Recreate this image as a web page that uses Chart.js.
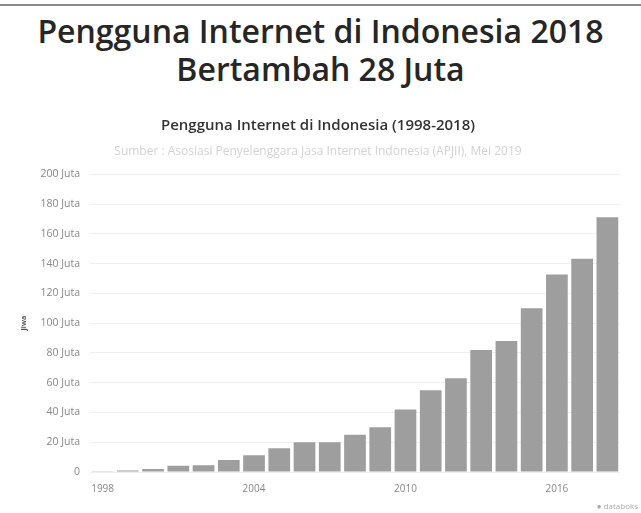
<!DOCTYPE html>
<html lang="id">
<head>
    <meta charset="UTF-8">
    <title>Pengguna Internet di Indonesia 2018</title>
    <script src="https://cdn.jsdelivr.net/npm/chart.js"></script>
    <style>
        body { margin: 0; background: #fff; width: 641px; height: 513px; overflow: hidden; position: relative; font-family: "Open Sans", sans-serif; }
        #topline { position: absolute; left: 0; top: 4px; width: 641px; height: 2px; background: #8a8a8a; }
        #headline { position: absolute; left: 0; top: 12px; width: 641px; text-align: center; font-size: 32px; line-height: 38px; color: #262626; font-weight: 600; }
        #chartBox { position: absolute; left: 0; top: 106px; width: 641px; height: 407px; }
        #brand { position: absolute; right: 3px; bottom: 2px; font-size: 8px; color: #aaa; }
    </style>
</head>
<body>
<div id="topline"></div>
<div id="headline">Pengguna Internet di Indonesia 2018<br>Bertambah 28 Juta</div>
<div id="chartBox"><canvas id="usersChart" width="641" height="407"></canvas></div>
<div id="brand">&#9679; databoks</div>

<script>
    // Data (juta jiwa)
    const years = ['1998','1999','2000','2001','2002','2003','2004','2005','2006','2007','2008',
                   '2009','2010','2011','2012','2013','2014','2015','2016','2017','2018'];
    const users = [0.5, 1, 2, 4.2, 4.5, 8, 11.2, 16, 20, 20, 25,
                   30, 42, 55, 63, 82, 88, 110, 132.7, 143.3, 171.2];
    const yTicks = [0, 20, 40, 60, 80, 100, 120, 140, 160, 180, 200];

    const barColor = '#9e9e9e';
    const gridColor = '#efefef';

    const ctx = document.getElementById('usersChart').getContext('2d');
    new Chart(ctx, {
        type: 'bar',
        data: {
            labels: years,
            datasets: [{
                label: 'Pengguna Internet',
                data: users,
                backgroundColor: barColor,
                borderWidth: 0,
                barPercentage: 0.86,
                categoryPercentage: 1
            }]
        },
        options: {
            responsive: false,
            animation: false,
            layout: { padding: { left: 16, right: 21, top: 5, bottom: 15 } },
            plugins: {
                legend: { display: false },
                tooltip: { enabled: false },
                title: {
                    display: true,
                    text: 'Pengguna Internet di Indonesia (1998-2018)',
                    color: '#333',
                    font: { family: 'Open Sans', size: 15, weight: '600' },
                    padding: { top: 6, bottom: 9 }
                },
                subtitle: {
                    display: true,
                    text: 'Sumber : Asosiasi Penyelenggara Jasa Internet Indonesia (APJII), Mei 2019',
                    color: '#d2d2d2',
                    font: { family: 'Open Sans', size: 12 },
                    padding: { bottom: 16 }
                }
            },
            scales: {
                x: {
                    grid: { display: false },
                    border: { display: false },
                    ticks: {
                        autoSkip: false,
                        maxRotation: 0,
                        color: '#888',
                        font: { family: 'Open Sans', size: 10 },
                        padding: 3,
                        callback: function(value, index) {
                            return index % 6 === 0 ? years[index] : '';
                        }
                    }
                },
                y: {
                    min: 0,
                    max: 200,
                    afterBuildTicks: function(axis) {
                        axis.ticks = yTicks.map(v => ({ value: v }));
                    },
                    grid: { color: gridColor, drawTicks: false },
                    border: { display: false },
                    title: {
                        display: true,
                        text: 'Jiwa',
                        color: '#555',
                        font: { family: 'Open Sans', size: 7, weight: 'bold' },
                        padding: { bottom: 2 }
                    },
                    ticks: {
                        autoSkip: false,
                        color: '#888',
                        font: { family: 'Open Sans', size: 10.5 },
                        padding: 10,
                        callback: function(value) {
                            return value === 0 ? '0' : value + ' Juta';
                        }
                    }
                }
            }
        }
    });
</script>
</body>
</html>
